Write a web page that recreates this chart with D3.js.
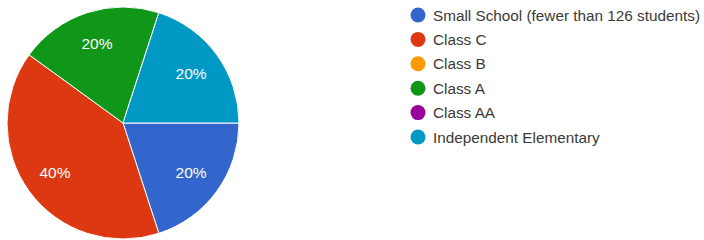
<!DOCTYPE html>
<html lang="en">
<head>
    <meta charset="UTF-8">
    <script src="https://d3js.org/d3.v7.min.js"></script>
    <style>
        body { margin: 0; background: #fff; }
        svg text { font-family: Arial, "Liberation Sans", sans-serif; }
    </style>
</head>
<body>
    <div id="chart"></div>
    <script>
        // categories and shares (percent)
        const categories = ["Small School (fewer than 126 students)", "Class C", "Class B", "Class A", "Class AA", "Independent Elementary"];
        const values = [20, 40, 0, 20, 0, 20];
        const colors = ["#3366cc", "#dc3912", "#ff9900", "#109618", "#990099", "#0099c6"];

        const width = 704, height = 240;
        const cx = 123, cy = 123, radius = 116;

        const svg = d3.select("#chart").append("svg")
            .attr("width", width)
            .attr("height", height);

        const data = categories.map((c, i) => ({ name: c, value: values[i], color: colors[i] }));

        // first slice starts at 3 o'clock and goes clockwise
        const pie = d3.pie()
            .value(d => d.value)
            .sort(null)
            .startAngle(Math.PI / 2)
            .endAngle(Math.PI / 2 + 2 * Math.PI);

        const arc = d3.arc().innerRadius(0).outerRadius(radius);
        const labelArc = d3.arc().innerRadius(radius * 0.725).outerRadius(radius * 0.725);

        const g = svg.append("g").attr("transform", `translate(${cx},${cy})`);
        const arcs = pie(data).filter(d => d.data.value > 0);

        g.selectAll("path")
            .data(arcs)
            .join("path")
            .attr("d", arc)
            .attr("fill", d => d.data.color)
            .attr("stroke", "#fff")
            .attr("stroke-width", 1);

        const total = d3.sum(values);
        g.selectAll("text")
            .data(arcs)
            .join("text")
            .attr("transform", d => `translate(${labelArc.centroid(d)})`)
            .attr("text-anchor", "middle")
            .attr("dy", "0.36em")
            .attr("fill", "#fff")
            .style("font-size", "15.5px")
            .text(d => Math.round(d.data.value / total * 100) + "%");

        // legend
        const legend = svg.append("g").attr("transform", "translate(418,15)");
        const rows = legend.selectAll("g")
            .data(data)
            .join("g")
            .attr("transform", (d, i) => `translate(0,${i * 24.4})`);

        rows.append("circle")
            .attr("r", 7.5)
            .attr("fill", d => d.color);

        rows.append("text")
            .attr("x", 15)
            .attr("dy", "0.36em")
            .attr("fill", "#3a3a3a")
            .style("font-size", "15.3px")
            .text(d => d.name);
    </script>
</body>
</html>
